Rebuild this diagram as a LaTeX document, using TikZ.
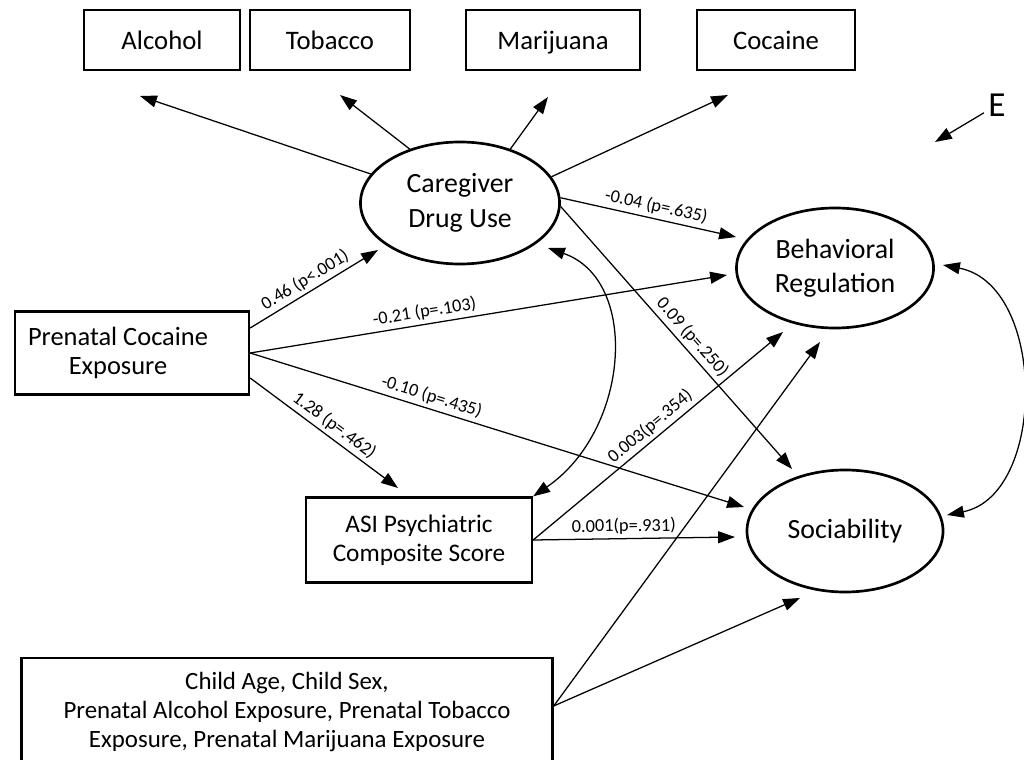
\documentclass[tikz,border=0pt]{standalone}
\usepackage{fontspec}
\setmainfont{Carlito}
\usetikzlibrary{calc,positioning,shapes.geometric,arrows.meta}

\begin{document}
\begin{tikzpicture}[x=0.025cm,y=-0.025cm,font=\fontsize{18pt}{20.5pt}\selectfont,
        bx/.style={draw,line width=1.6pt,inner sep=0pt,align=center},
        topbx/.style={bx,minimum height=1.5cm,font=\fontsize{19pt}{21pt}\selectfont,text height=13.3pt,text depth=0pt},
        lv/.style={draw,ellipse,line width=1.9pt,inner sep=0pt,align=center,font=\fontsize{19.8pt}{24.5pt}\selectfont},
        ar/.style={-{Triangle[length=12pt,width=8.5pt]},line width=0.9pt},
        dar/.style={{Triangle[length=12pt,width=8.5pt]}-{Triangle[length=12pt,width=8.5pt]},line width=0.9pt},
        lbl/.style={font=\fontsize{13pt}{15pt}\selectfont,sloped,above,inner sep=2.5pt}]
        \useasboundingbox (0,0) rectangle (1024,760);
        \node[topbx,minimum width=3.9cm] (alc) at (162,40) {Alcohol};
        \node[topbx,minimum width=4cm] (tob) at (330,40) {Tobacco};
        \node[topbx,minimum width=4.35cm] (mar) at (553,40) {Marijuana};
        \node[topbx,minimum width=3.95cm] (coc) at (776,40) {Cocaine};
        \node[lv,minimum width=4.975cm,minimum height=3.05cm] (cdu) at (460,203) {Caregiver\\Drug Use};
        \node[lv,minimum width=4.925cm,minimum height=3cm] (br) at (835,268) {Behavioral\\Regulation};
        \node[lv,minimum width=4.9cm,minimum height=3.05cm] (soc) at (845,531) {Sociability};
        \node[bx,minimum width=5.85cm,minimum height=2.075cm] (pce) at (132,353) {};
        \node[align=center,inner sep=0pt,font=\fontsize{18.8pt}{21pt}\selectfont] (pcetxt) at (118,353) {Prenatal Cocaine\\Exposure};
        \node[bx,minimum width=5.65cm,minimum height=2.125cm] (asi) at (419,540) {ASI Psychiatric\\Composite Score};
        \node[bx,minimum width=13.275cm,minimum height=2.7cm,font=\fontsize{17.7pt}{20.5pt}\selectfont] (cov) at (287,712) {Child Age, Child Sex,\\Prenatal Alcohol Exposure, Prenatal Tobacco\\Exposure, Prenatal Marijuana Exposure};
        \node[font=\fontsize{25pt}{27pt}\selectfont,inner sep=3pt] (e) at (997,105) {E};
        \coordinate (ta) at (140,96);
        \coordinate (tt) at (340,95);
        \coordinate (tm) at (548,97);
        \coordinate (tc) at (728,95);
        \coordinate (t1) at (378,250);
        \coordinate (t2) at (727,275);
        \coordinate (t3) at (744,507);
        \coordinate (t4) at (398,488);
        \coordinate (t5) at (736,237);
        \coordinate (t6) at (792,469);
        \coordinate (t7) at (783,332);
        \coordinate (t8) at (735,537);
        \coordinate (t9) at (820,342);
        \coordinate (t10) at (800,598);
        \coordinate (cu) at (548,248);
        \coordinate (bu) at (943,265);
        \coordinate (sd) at (947,515);
        \coordinate (te) at (935,142);
        \foreach \a/\b in {162/ta,133/tt,47/tm,16/tc}{\draw[ar] (cdu.\a) -- (\b);}
        \draw[ar] ($(pce.east)+(0,-25)$) -- node[lbl,pos=0.48] (l1) {0.46 (p<.001)} (t1);
        \draw[ar] (pce.east) -- node[lbl,pos=0.37] (l2) {-0.21 (p=.103)} (t2);
        \draw[ar] (pce.east) -- node[lbl,pos=0.36] (l3) {-0.10 (p=.435)} (t3);
        \draw[ar] ($(pce.east)+(0,25)$) -- node[lbl,pos=0.52] (l4) {1.28 (p=.462)} (t4);
        \draw[ar] (cdu.3) -- node[lbl,pos=0.53] (l5) {-0.04 (p=.635)} (t5);
        \draw[ar] (cdu.-2) -- node[lbl,pos=0.53] (l6) {0.09 (p=.250)} (t6);
        \draw[ar] (asi.east) -- node[lbl,pos=0.5] (l7) {0.003(p=.354)} (t7);
        \draw[ar] (asi.east) -- node[lbl,pos=0.45] (l8) {0.001(p=.931)} (t8);
        \draw[ar] ($(cov.east)+(0,-6)$) -- (t9);
        \draw[ar] ($(cov.east)+(0,-6)$) -- (t10);
        \draw[dar] (cu) .. controls (640,280) and (630,430) .. (asi.north east);
        \draw[dar] (bu) .. controls (1047,285) and (1047,495) .. (sd);
        \draw[ar] (e) -- (te);
      \end{tikzpicture}
\end{document}
